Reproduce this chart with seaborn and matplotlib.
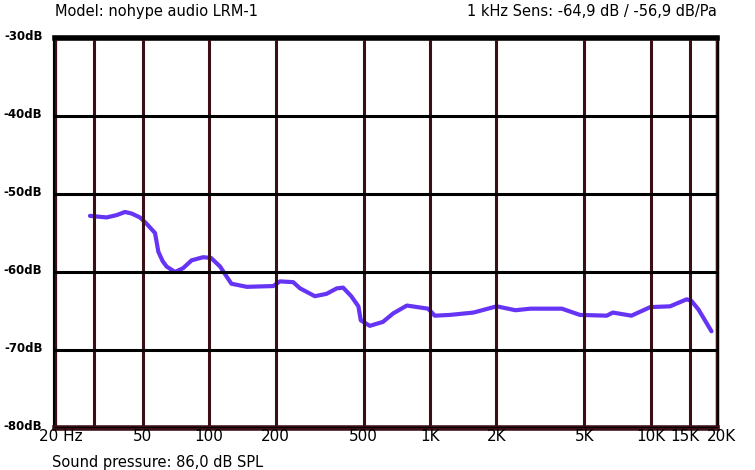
import matplotlib
matplotlib.use('Agg')
import matplotlib.pyplot as plt
import matplotlib.transforms as mtransforms
import pandas as pd
import seaborn as sns

# Frequency response
freq = [28.8, 34.3, 38.1, 41.5, 44.5, 48.5, 52.0, 56.8, 57.8, 58.8, 61.5, 64.1, 70, 76.2,
        83.2, 93.9, 102, 112, 120, 126, 148, 195, 209, 240, 258, 301, 340, 378, 404, 440,
        474, 486, 534, 612, 682, 786, 980, 1052, 1234, 1574, 2006, 2440, 2850, 3960, 4780,
        6320, 6740, 8180, 9960, 12240, 14560, 15300, 16460, 17620, 18860]
level = [-52.8, -53.0, -52.7, -52.3, -52.5, -53.0, -53.8, -55.0, -56.2, -57.4, -58.6, -59.3,
         -60.0, -59.5, -58.5, -58.1, -58.2, -59.3, -60.6, -61.5, -61.9, -61.8, -61.2, -61.3,
         -62.1, -63.1, -62.8, -62.1, -62.0, -63.1, -64.4, -66.2, -66.9, -66.4, -65.3, -64.3,
         -64.7, -65.6, -65.5, -65.2, -64.4, -64.9, -64.7, -64.7, -65.5, -65.6, -65.2, -65.6,
         -64.5, -64.4, -63.5, -63.7, -64.8, -66.2, -67.6]

x_ticks = [20, 30, 50, 100, 200, 500, 1000, 2000, 5000, 10000, 15000, 20000]
x_labels = ['20 Hz', '', '50', '100', '200', '500', '1K', '2K', '5K', '10K', '15K', '20K']
y_ticks = [-80, -70, -60, -50, -40, -30]
y_labels = ['-80dB', '-70dB', '-60dB', '-50dB', '-40dB', '-30dB']

df = pd.DataFrame({'freq': freq, 'level': level})

sns.set_style('white')
plt.rcParams['font.family'] = ['DejaVu Sans']
plt.rcParams['text.color'] = 'black'

maroon = '#3a1016'

fig = plt.figure(figsize=(7.55, 4.7), dpi=100)
ax = fig.add_axes([0.0728, 0.0894, 0.877, 0.8296])

sns.lineplot(data=df, x='freq', y='level', ax=ax, color='#6634f5', linewidth=3.0, zorder=1,
             solid_joinstyle='round', solid_capstyle='round')

ax.set_xscale('log')
ax.set_xlim(20, 20000)
ax.set_ylim(-80, -30)
ax.set_xticks(x_ticks)
ax.set_xticklabels(x_labels, fontsize=11)
ax.minorticks_off()
ax.set_yticks(y_ticks)
ax.set_yticklabels(y_labels, fontsize=8.5, fontweight='bold')
ax.set_xlabel('')
ax.set_ylabel('')
ax.tick_params(axis='both', length=0, labelcolor='black')
ax.tick_params(axis='x', pad=1)
ax.tick_params(axis='y', pad=9)

# nudge labels a little, as in the original
for lab in ax.get_yticklabels():
    lab.set_transform(lab.get_transform() + mtransforms.ScaledTranslation(0, 2 / 72, fig.dpi_scale_trans))
xl = ax.get_xticklabels()
xl[0].set_transform(xl[0].get_transform() + mtransforms.ScaledTranslation(4 / 72, 0, fig.dpi_scale_trans))
xl[-2].set_transform(xl[-2].get_transform() + mtransforms.ScaledTranslation(-3 / 72, 0, fig.dpi_scale_trans))
xl[-1].set_transform(xl[-1].get_transform() + mtransforms.ScaledTranslation(3 / 72, 0, fig.dpi_scale_trans))

ax.set_axisbelow(False)
ax.xaxis.grid(True, color=maroon, linewidth=2.2)
ax.yaxis.grid(True, color='black', linewidth=2.2)

ax.spines['top'].set_color('black')
ax.spines['top'].set_linewidth(4)
ax.spines['left'].set_color('black')
ax.spines['left'].set_linewidth(3)
ax.spines['right'].set_color('black')
ax.spines['right'].set_linewidth(2.5)
ax.spines['bottom'].set_color(maroon)
ax.spines['bottom'].set_linewidth(4)

fig.text(0.0728, 0.975, 'Model: nohype audio LRM-1', fontsize=10.5, ha='left', va='center')
fig.text(0.9497, 0.975, '1 kHz Sens: -64,9 dB / -56,9 dB/Pa', fontsize=10.5, ha='right', va='center')
fig.text(0.069, 0.017, 'Sound pressure: 86,0 dB SPL', fontsize=10.5, ha='left', va='center')

fig.savefig('out.png', dpi=100)
